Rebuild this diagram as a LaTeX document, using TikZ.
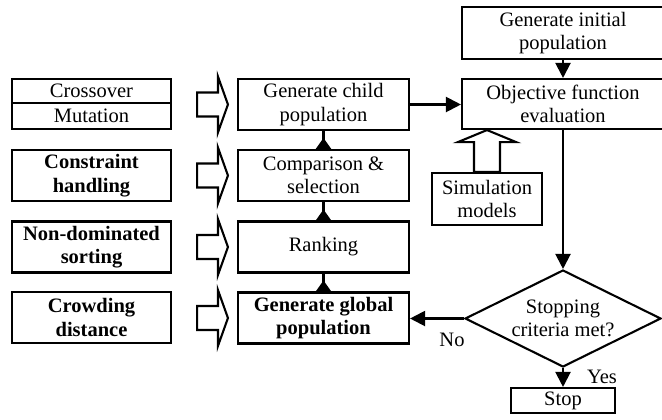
\documentclass[tikz,border=0pt]{standalone}
\usepackage{fontspec}
\setmainfont{Liberation Serif}
\usetikzlibrary{arrows.meta,shapes.geometric,calc}
\newcommand\blockright[2]{%
  \draw[blk] let \p1=(#1.east), \p2=(#2.west) in
    (\x1+25bp,\y2+12bp) -- (\x2-19bp,\y2+12bp) -- (\x2-19bp,\y2+28bp) -- (\x2-9bp,\y2)
    -- (\x2-19bp,\y2-28bp) -- (\x2-19bp,\y2-12bp) -- (\x1+25bp,\y2-12bp) -- cycle;}
\newcommand\blockup[2]{%
  \draw[blk] let \p1=(#1.north), \p2=(#2.south) in
    (\x1-13bp,\y1) -- (\x1-13bp,\y2-12bp) -- (\x1-29bp,\y2-12bp) -- (\x1,\y2)
    -- (\x1+29bp,\y2-12bp) -- (\x1+13bp,\y2-12bp) -- (\x1+13bp,\y1) -- cycle;}
\begin{document}
\begin{tikzpicture}[x=1bp,y=-1bp,
  every node/.style={font=\fontsize{20.5bp}{23.5bp}\selectfont},
  box/.style={draw, line width=2.1bp, inner sep=0pt, align=center},
  lbox/.style={box, minimum width=159bp, minimum height=51bp},
  mbox/.style={box, minimum width=171bp, minimum height=51bp},
  rbox/.style={box, minimum width=202bp, minimum height=52bp},
  bold/.style={font=\fontsize{20.5bp}{23.5bp}\selectfont\bfseries},
  conn/.style={line width=2.1bp},
  arr/.style={-{Triangle[width=15bp,length=15bp]}},
  smallarr/.style={-{Triangle[width=15bp,length=11bp]}},
  blk/.style={draw, line width=2.1bp, fill=white, line join=miter}]
\useasboundingbox (0,0) rectangle (662,419);

% left column
\node[box, minimum width=159bp, minimum height=24bp] (cross) at (91.5,91) {Crossover};
\node[box, minimum width=159bp, minimum height=26bp] (mut) at (91.5,116) {Mutation};
\node[lbox, bold] (con) at (91.5,175.5) {Constraint\\handling};
\node[lbox, bold] (nds) at (91.5,247) {Non-dominated\\sorting};
\node[lbox, bold] (crowd) at (91.5,317.5) {Crowding\\distance};

% middle column
\node[mbox] (child) at (323.5,104.5) {Generate child\\population};
\node[mbox] (comp) at (323.5,175.5) {Comparison \&\\selection};
\node[mbox] (rank) at (323.5,247) {Ranking};
\node[mbox, bold] (glob) at (323.5,318) {Generate global\\population};

% right column
\node[rbox] (init) at (563,33) {Generate initial\\population};
\node[rbox, minimum height=50bp] (obj) at (563,104) {Objective function\\evaluation};
\node[box, minimum width=110bp, minimum height=52bp] (sim) at (487,199) {Simulation\\models};
\node[draw, diamond, line width=2.1bp, inner sep=0pt, aspect=2, minimum width=196bp,
      minimum height=97bp, align=center] (dec) at (563,318.5) {Stopping\\criteria met?};
\node[box, minimum width=104bp, minimum height=25bp] (stop) at (563,400.5) {Stop};

% block arrows
\blockright{mut}{child}
\blockright{con}{comp}
\blockright{nds}{rank}
\blockright{crowd}{glob}
\blockup{sim}{obj}

% small upward arrows between middle boxes
\draw[conn] (comp.north) -- (child.south);
\draw[conn, smallarr] (comp.north) -- ++(0,-11);
\draw[conn] (rank.north) -- (comp.south);
\draw[conn, smallarr] (rank.north) -- ++(0,-11);
\draw[conn] (glob.north) -- (rank.south);
\draw[conn, smallarr] (glob.north) -- ++(0,-11);

% other connectors
\draw[conn, arr] (init.south) -- (obj.north);
\draw[conn, arr] (child.east) -- (child.east -| obj.west);
\draw[conn, arr] (obj.south) -- (dec.north);
\draw[conn, arr] (dec.south) -- (stop.north);
\draw[conn, arr] (dec.west) -- (dec.west -| glob.east);

\node (no) at (452,340) {No};
\node (yes) at (602,377) {Yes};
\end{tikzpicture}
\end{document}
